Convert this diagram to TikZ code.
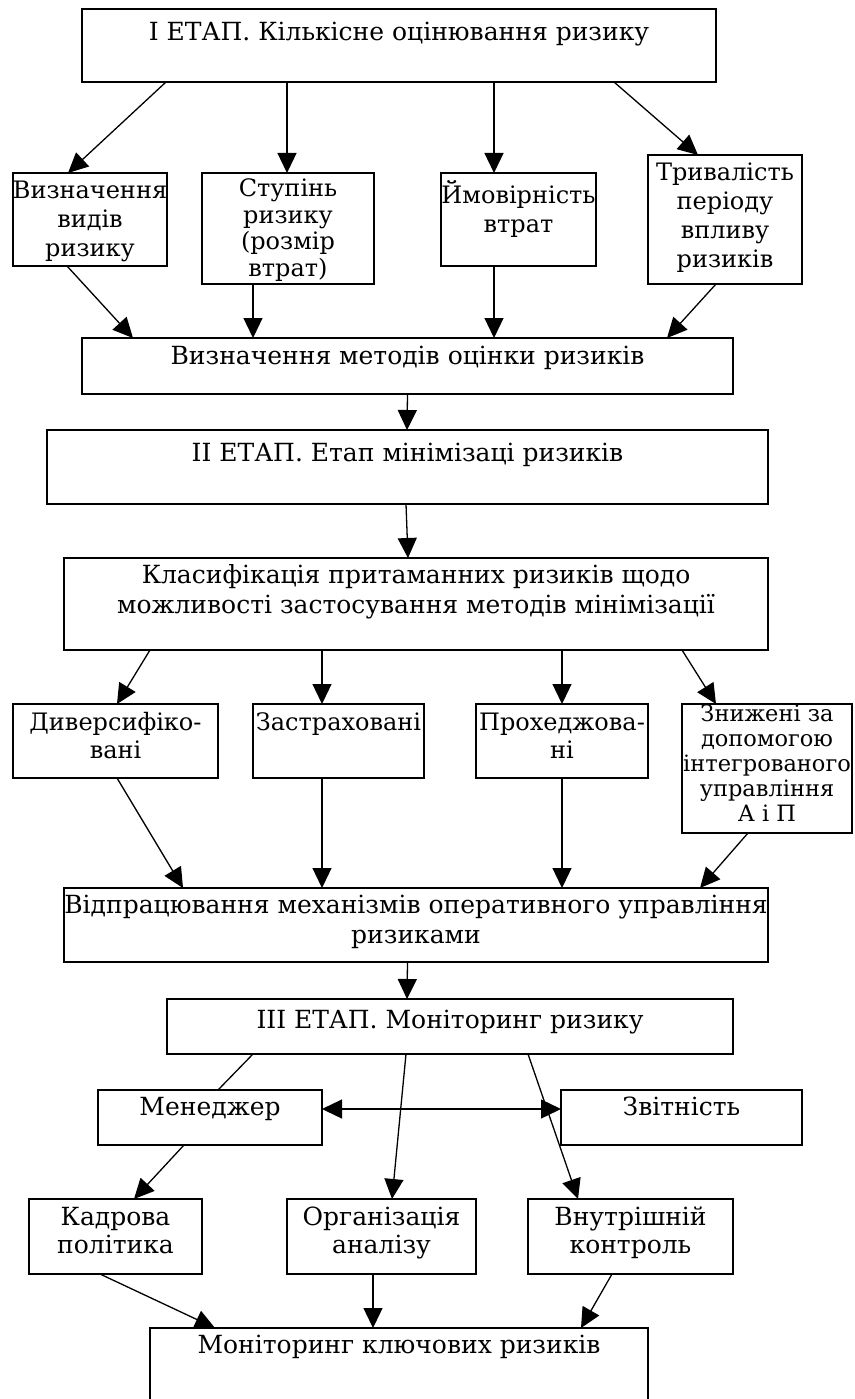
\documentclass[tikz,border=0pt]{standalone}
\usepackage{fontspec}
\setmainfont{DejaVu Serif}
\usetikzlibrary{arrows.meta}
\newcommand\Ln[1]{\hbox to \linewidth{\hss\strut#1\hss}}
\newcommand\B[9]{%
\node[bx, anchor=north west] (#1) at (#2,-#3) {\parbox[t][\dimexpr#5pt-#3pt\relax][t]{\dimexpr#4pt-#2pt\relax}{\fontsize{#8}{#7}\selectfont\vspace*{#6pt}#9}};}
\begin{document}
\begin{tikzpicture}[x=1pt,y=1pt,
  bx/.style={draw, line width=1.6pt, inner sep=0pt, outer sep=0pt},
  ar/.style={line width=1.3pt, -{Triangle[length=20pt,width=19pt]}},
  ln/.style={line width=1.3pt},
  dar/.style={line width=1.3pt, {Triangle[length=20pt,width=19pt]}-{Triangle[length=20pt,width=19pt]}}]
\useasboundingbox (0,0) rectangle (854,-1399);
\clip (0,0) rectangle (854,-1399);
\B{top}{82}{9}{716}{82}{10.5}{30}{25}{\Ln{І ЕТАП. Кількісне оцінювання ризику}}
\B{vyd}{13}{173}{167}{266}{5.5}{29}{24}{\Ln{Визначення}\Ln{видів}\Ln{ризику}}
\B{stup}{202}{173}{374}{284}{5.2}{26.5}{24}{\Ln{Ступінь}\Ln{ризику}\Ln{(розмір}\Ln{втрат)}}
\B{ymov}{441}{173}{596}{266}{7.5}{29}{24}{\Ln{Ймовірність}\Ln{втрат}}
\B{tryv}{648}{155}{802}{284}{5.5}{29}{24}{\Ln{Тривалість}\Ln{періоду}\Ln{впливу}\Ln{ризиків}}
\B{metod}{82}{338}{733}{394}{5.3}{30}{25}{\Ln{Визначення методів оцінки ризиків}}
\B{etap2}{47}{430}{768}{504}{10.3}{30}{25}{\Ln{ІІ ЕТАП. Етап мінімізаці ризиків}}
\B{klas}{64}{558}{768}{650}{4.3}{30}{25}{\Ln{Класифікація притаманних ризиків щодо}\Ln{можливості застосування методів мінімізації}}
\B{dyv}{13}{704}{218}{778}{7.2}{28}{24}{\Ln{Диверсифіко-}\Ln{вані}}
\B{zastr}{253}{704}{424}{778}{7.2}{28}{24}{\Ln{Застраховані}}
\B{prox}{476}{704}{648}{778}{7.2}{28}{24}{\Ln{Прохеджова-}\Ln{ні}}
\B{znyzh}{682}{704}{852}{833}{0}{25}{22.5}{\Ln{Знижені за}\Ln{допомогою}\Ln{інтегрованого}\Ln{управління}\Ln{А і П}}
\B{vidpr}{64}{888}{768}{962}{4.3}{30}{25}{\Ln{Відпрацювання механізмів оперативного управління}\Ln{ризиками}}
\B{etap3}{167}{999}{733}{1054}{8.3}{30}{25}{\Ln{ІІІ ЕТАП. Моніторинг ризику}}
\B{men}{98}{1090}{322}{1145}{4.3}{30}{25}{\Ln{Менеджер}}
\B{zvit}{561}{1090}{802}{1145}{4.3}{30}{25}{\Ln{Звітність}}
\B{kadr}{29}{1199}{202}{1274}{6.7}{28}{25}{\Ln{Кадрова}\Ln{політика}}
\B{org}{287}{1199}{476}{1274}{6.7}{28}{25}{\Ln{Організація}\Ln{аналізу}}
\B{vnutr}{528}{1199}{733}{1274}{6.7}{28}{25}{\Ln{Внутрішній}\Ln{контроль}}
\B{monit}{150}{1328}{648}{1430}{4.3}{30}{25}{\Ln{Моніторинг ключових ризиків}}
% stage I
\draw[ar] ([xshift=84pt]top.south west) -- ([xshift=55pt]vyd.north west);
\draw[ar] ([xshift=205pt]top.south west) -- ([xshift=85pt]stup.north west);
\draw[ar] ([xshift=412pt]top.south west) -- ([xshift=53pt]ymov.north west);
\draw[ar] ([xshift=532pt]top.south west) -- ([xshift=50pt]tryv.north west);
\draw[ar] ([xshift=54pt]vyd.south west) -- ([xshift=51pt]metod.north west);
\draw[ar] ([xshift=51pt]stup.south west) -- ([xshift=171pt]metod.north west);
\draw[ar] ([xshift=53pt]ymov.south west) -- ([xshift=412pt]metod.north west);
\draw[ar] ([xshift=68pt]tryv.south west) -- ([xshift=585pt]metod.north west);
\draw[ar] ([xshift=325.5pt]metod.south west) -- ([xshift=360pt]etap2.north west);
% stage II
\draw[ar] ([xshift=359pt]etap2.south west) -- ([xshift=344pt]klas.north west);
\draw[ar] ([xshift=86pt]klas.south west) -- ([xshift=104pt]dyv.north west);
\draw[ar] ([xshift=258pt]klas.south west) -- ([xshift=69pt]zastr.north west);
\draw[ar] ([xshift=498pt]klas.south west) -- ([xshift=86pt]prox.north west);
\draw[ar] ([xshift=618pt]klas.south west) -- ([xshift=34pt]znyzh.north west);
\draw[ar] ([xshift=104pt]dyv.south west) -- ([xshift=119pt]vidpr.north west);
\draw[ar] ([xshift=69pt]zastr.south west) -- ([xshift=258pt]vidpr.north west);
\draw[ar] ([xshift=86pt]prox.south west) -- ([xshift=498pt]vidpr.north west);
\draw[ar] ([xshift=66pt]znyzh.south west) -- ([xshift=636pt]vidpr.north west);
\draw[ar] ([xshift=343.5pt]vidpr.south west) -- ([xshift=240pt]etap3.north west);
% stage III
\draw[ln] ([xshift=86pt]etap3.south west) -- ([xshift=120pt]men.north west);
\draw[ar] ([xshift=239pt]etap3.south west) -- ([xshift=105pt]org.north west);
\draw[ar] ([xshift=361pt]etap3.south west) -- ([xshift=50pt]vnutr.north west);
\draw[dar] ([yshift=-19pt]men.north east) -- ([yshift=-19pt]zvit.north west);
\draw[ar] ([xshift=86pt]men.south west) -- ([xshift=105pt]kadr.north west);
\draw[ar] ([xshift=71pt]kadr.south west) -- ([xshift=65pt]monit.north west);
\draw[ar] ([xshift=86pt]org.south west) -- ([xshift=223pt]monit.north west);
\draw[ar] ([xshift=84pt]vnutr.south west) -- ([xshift=431pt]monit.north west);
\end{tikzpicture}
\end{document}
